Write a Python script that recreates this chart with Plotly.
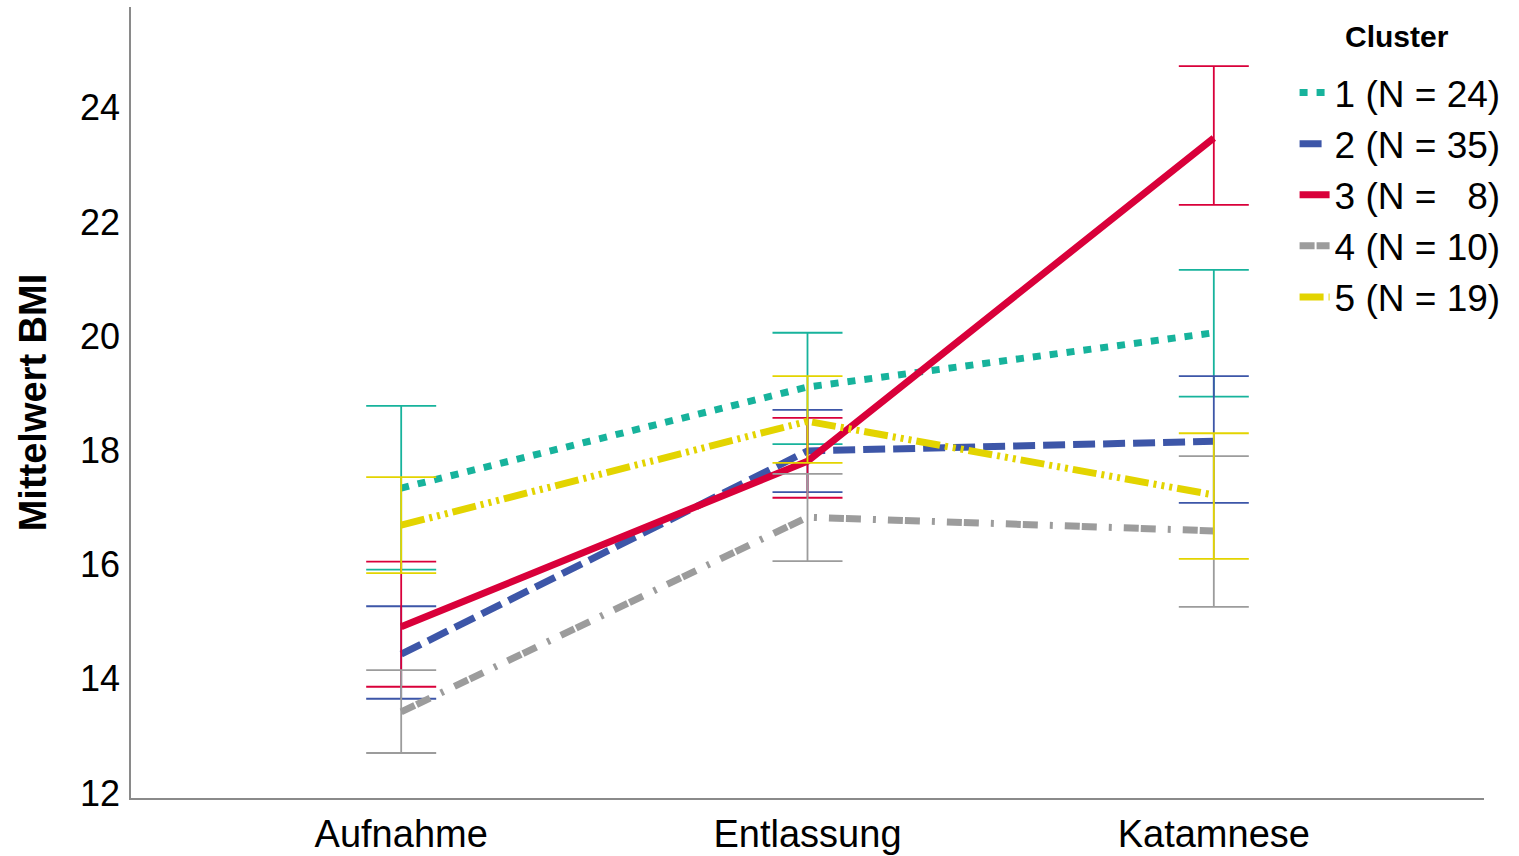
import plotly.graph_objects as go

categories = ["Aufnahme", "Entlassung", "Katamnese"]

cluster_names = ["1 (N = 24)", "2 (N = 35)", "3 (N =\u00a0\u00a0\u00a08)", "4 (N = 10)", "5 (N = 19)"]

mean_c1 = [17.34, 19.11, 20.06]
upper_c1 = [18.78, 20.06, 21.16]
lower_c1 = [15.91, 18.11, 18.94]

mean_c2 = [14.43, 17.99, 18.16]
upper_c2 = [15.27, 18.71, 19.30]
lower_c2 = [13.65, 17.27, 17.08]

mean_c3 = [14.91, 17.81, 23.47]
upper_c3 = [16.05, 18.57, 24.73]
lower_c3 = [13.86, 17.17, 22.30]

mean_c4 = [13.42, 16.83, 16.59]
upper_c4 = [14.15, 17.59, 17.90]
lower_c4 = [12.70, 16.06, 15.26]

mean_c5 = [16.69, 18.51, 17.22]
upper_c5 = [17.53, 19.30, 18.30]
lower_c5 = [15.85, 17.78, 16.10]

means = [mean_c1, mean_c2, mean_c3, mean_c4, mean_c5]
uppers = [upper_c1, upper_c2, upper_c3, upper_c4, upper_c5]
lowers = [lower_c1, lower_c2, lower_c3, lower_c4, lower_c5]

colors = ["#17B39C", "#3D56A8", "#D9003A", "#9C9C9C", "#E3D400"]
dashes = [
    "8px,9px",
    "22px,8px",
    "solid",
    "15px,2px,15px,12px,3px,12px",
    "24px,5px,3px,5px,3px,5px,3px,5px",
]

FONT = "Liberation Sans, Arial, sans-serif"

fig = go.Figure()
for name, m, u, lo, c, d in zip(cluster_names, means, uppers, lowers, colors, dashes):
    fig.add_trace(go.Scatter(
        x=categories, y=m, name=name, mode="lines",
        line=dict(color=c, width=7, dash=d),
        error_y=dict(
            type="data", symmetric=False,
            array=[a - b for a, b in zip(u, m)],
            arrayminus=[b - a for a, b in zip(lo, m)],
            color=c, thickness=1.8, width=35,
        ),
    ))

fig.add_annotation(
    text="<b>Cluster</b>", xref="paper", yref="paper",
    x=(1397 - 131) / 1353, y=(798 - 36) / 791,
    xanchor="center", yanchor="middle", showarrow=False,
    font=dict(size=30, family=FONT, color="black"),
)

fig.update_layout(
    width=1519, height=856,
    margin=dict(l=131, r=35, t=7, b=58, autoexpand=False),
    plot_bgcolor="white", paper_bgcolor="white",
    font=dict(family=FONT, size=36, color="black"),
    showlegend=True,
    legend=dict(
        x=0.86, y=(798 - 62) / 791, xanchor="left", yanchor="top",
        bgcolor="rgba(0,0,0,0)",
        font=dict(size=37, family=FONT),
        tracegroupgap=0,
    ),
    xaxis=dict(
        type="category", range=[-0.665, 2.665],
        showgrid=False, zeroline=False, automargin=False,
        showline=True, linecolor="#8a8a8a", linewidth=1.5,
        ticks="", tickfont=dict(size=38), ticklabelstandoff=2,
    ),
    yaxis=dict(
        range=[11.912, 25.765],
        tickvals=[12, 14, 16, 18, 20, 22, 24],
        showgrid=False, zeroline=False, automargin=False,
        showline=True, linecolor="#8a8a8a", linewidth=1.5,
        ticks="", tickfont=dict(size=36), ticklabelstandoff=2,
        title=dict(text="<b>Mittelwert BMI</b>", font=dict(size=38), standoff=22),
    ),
)

fig.write_html(
    "out.html",
    config={"displayModeBar": False},
    post_script="document.body.style.margin='0px';document.body.style.overflow='hidden';",
)
